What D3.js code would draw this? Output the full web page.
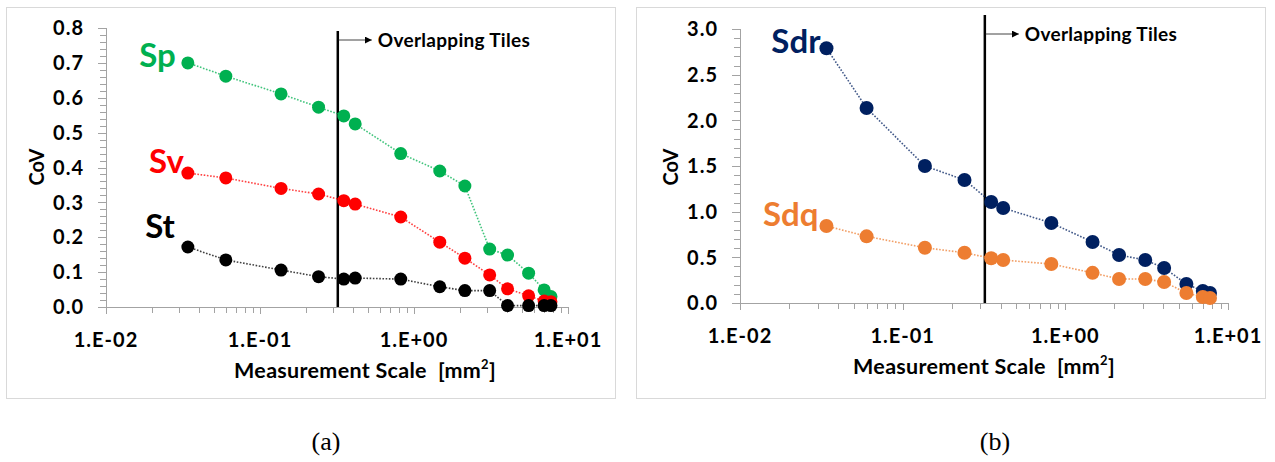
<!DOCTYPE html>
<html>
<head>
<meta charset="utf-8">
<script src="https://cdn.jsdelivr.net/npm/d3@7"></script>
<style>
  body { margin: 0; background: #fff; }
  svg { display: block; }
  svg text { font-family: Lato, "Open Sans", sans-serif; white-space: pre; }
  svg text.caption { font-family: "Liberation Serif", "Times New Roman", serif; }
</style>
</head>
<body>
<div id="chart"></div>
<script>
// measurement scales [mm^2], shared by both panels
var scales = [0.034, 0.060, 0.137, 0.24, 0.35, 0.415, 0.82, 1.47, 2.14, 3.1, 4.05, 5.55, 7.0, 7.75];

// panel (a)
var spCoV = [0.700, 0.662, 0.611, 0.573, 0.548, 0.525, 0.440, 0.390, 0.347, 0.166, 0.149, 0.097, 0.049, 0.030];
var svCoV = [0.384, 0.370, 0.340, 0.324, 0.305, 0.295, 0.258, 0.186, 0.140, 0.092, 0.052, 0.032, 0.017, 0.015];
var stCoV = [0.172, 0.135, 0.106, 0.087, 0.080, 0.083, 0.080, 0.058, 0.047, 0.047, 0.004, 0.004, 0.004, 0.004];

// panel (b)
var sdrCoV = [2.79, 2.135, 1.50, 1.347, 1.106, 1.04, 0.876, 0.668, 0.526, 0.47, 0.383, 0.208, 0.131, 0.11];
var sdqCoV = [0.843, 0.73, 0.605, 0.55, 0.49, 0.47, 0.427, 0.33, 0.263, 0.263, 0.23, 0.11, 0.066, 0.055];

var yTicksA = [0, 0.1, 0.2, 0.3, 0.4, 0.5, 0.6, 0.7, 0.8];
var yTicksB = [0, 0.5, 1.0, 1.5, 2.0, 2.5, 3.0];
var xTickValues = [0.01, 0.1, 1, 10];
var xTickLabels = ["1.E-02", "1.E-01", "1.E+00", "1.E+01"];
var overlapScale = 0.32;
var overlapLabel = "Overlapping Tiles";
var captions = ["(a)", "(b)"];

////////////////////////////////////////////////

var W = 1275, H = 462;
var svg = d3.select("#chart").append("svg")
    .attr("width", W)
    .attr("height", H);

svg.append("defs").append("marker")
    .attr("id", "arrow")
    .attr("viewBox", "0 0 10 10")
    .attr("refX", 10).attr("refY", 5)
    .attr("markerWidth", 7).attr("markerHeight", 7)
    .attr("markerUnits", "userSpaceOnUse")
    .attr("orient", "auto")
    .append("path")
    .attr("d", "M0,0 L10,5 L0,10 z")
    .attr("fill", "#000");

var axisGray = "#a3a3a3";

function drawPanel(p) {
    var g = svg.append("g");

    g.append("rect")
        .attr("x", p.box[0] + 0.5).attr("y", p.box[1] + 0.5)
        .attr("width", p.box[2]).attr("height", p.box[3])
        .attr("fill", "#fff")
        .attr("stroke", "#d9d9d9");

    var x = d3.scaleLog().domain([0.01, 10]).range([p.x0, p.x1]);
    var y = d3.scaleLinear().domain([0, p.yMax]).range([p.y0, p.y1]);

    // y axis with minor ticks
    var minorY = d3.range(0, p.yMax + 1e-9, p.yMinor);
    g.selectAll("line.ymin").data(minorY).enter().append("line")
        .attr("x1", p.x0 - 6).attr("x2", p.x0)
        .attr("y1", function(d){ return Math.round(y(d)) + 0.5; })
        .attr("y2", function(d){ return Math.round(y(d)) + 0.5; })
        .attr("stroke", axisGray);
    g.selectAll("line.ymaj").data(p.yTicks).enter().append("line")
        .attr("x1", p.x0 - 8).attr("x2", p.x0)
        .attr("y1", function(d){ return Math.round(y(d)) + 0.5; })
        .attr("y2", function(d){ return Math.round(y(d)) + 0.5; })
        .attr("stroke", axisGray);
    g.append("line")
        .attr("x1", p.x0 + 0.5).attr("x2", p.x0 + 0.5)
        .attr("y1", y(p.yMax)).attr("y2", p.y0 + 7)
        .attr("stroke", axisGray);
    g.selectAll("text.ytick").data(p.yTicks).enter().append("text")
        .attr("x", p.x0 - 22)
        .attr("y", function(d){ return y(d); })
        .attr("dy", "0.36em")
        .attr("text-anchor", "end")
        .attr("font-size", 20)
        .attr("font-weight", 700)
        .attr("letter-spacing", 1)
        .text(function(d){ return d.toFixed(1); });

    // x axis, log minor ticks
    var minorX = [];
    [0.01, 0.1, 1].forEach(function(dec){
        for (var k = 2; k <= 9; k++) minorX.push(dec * k);
    });
    g.append("line")
        .attr("x1", p.x0 - 8).attr("x2", p.x1)
        .attr("y1", Math.round(p.y0) + 0.5).attr("y2", Math.round(p.y0) + 0.5)
        .attr("stroke", axisGray);
    g.selectAll("line.xmin").data(minorX).enter().append("line")
        .attr("x1", function(d){ return Math.round(x(d)) + 0.5; })
        .attr("x2", function(d){ return Math.round(x(d)) + 0.5; })
        .attr("y1", p.y0).attr("y2", p.y0 + 6)
        .attr("stroke", axisGray);
    g.selectAll("line.xmaj").data(xTickValues).enter().append("line")
        .attr("x1", function(d){ return Math.round(x(d)) + 0.5; })
        .attr("x2", function(d){ return Math.round(x(d)) + 0.5; })
        .attr("y1", p.y0).attr("y2", p.y0 + 7)
        .attr("stroke", axisGray);
    g.selectAll("text.xtick").data(xTickValues).enter().append("text")
        .attr("x", function(d){ return x(d); })
        .attr("y", p.y0 + 40)
        .attr("text-anchor", "middle")
        .attr("font-size", 20)
        .attr("font-weight", 700)
        .attr("letter-spacing", 1)
        .text(function(d,i){ return xTickLabels[i]; });

    // axis titles
    var xt = g.append("text")
        .attr("x", (p.x0 + p.x1) / 2 + p.titleShift)
        .attr("y", p.y0 + 71)
        .attr("text-anchor", "middle")
        .attr("font-size", 21.5)
        .attr("font-weight", 700)
        .attr("letter-spacing", 0.3);
    xt.append("tspan").text("Measurement Scale  [mm");
    xt.append("tspan").attr("font-size", 13).attr("dy", -9).text("2");
    xt.append("tspan").attr("dy", 9).text("]");

    g.append("text")
        .attr("transform", "translate(" + (p.x0 - 69) + "," + 167 + ") rotate(-90)")
        .attr("dy", "0.36em")
        .attr("text-anchor", "middle")
        .attr("font-size", 20)
        .attr("font-weight", 700)
        .text("CoV");

    // overlapping tiles marker
    var ox = x(overlapScale);
    g.append("line")
        .attr("x1", ox).attr("x2", ox)
        .attr("y1", p.overlapTop).attr("y2", p.y0)
        .attr("stroke", "#000").attr("stroke-width", 2.5);
    g.append("line")
        .attr("x1", ox + 1).attr("x2", ox + 34)
        .attr("y1", p.overlapTop + p.arrowDy).attr("y2", p.overlapTop + p.arrowDy)
        .attr("stroke", "#444").attr("stroke-width", 1)
        .attr("marker-end", "url(#arrow)");
    g.append("text")
        .attr("x", ox + 40)
        .attr("y", p.overlapTop + p.arrowDy + 7)
        .attr("font-size", 19)
        .attr("font-weight", 700)
        .attr("letter-spacing", 0.3)
        .text(overlapLabel);

    // series
    var line = d3.line()
        .x(function(d){ return x(d[0]); })
        .y(function(d){ return y(d[1]); });

    p.series.forEach(function(s){
        var pts = d3.zip(scales, s.values);
        g.append("path")
            .attr("d", line(pts))
            .attr("fill", "none")
            .attr("stroke", s.color)
            .attr("stroke-opacity", 0.75)
            .attr("stroke-width", 1.6)
            .attr("stroke-dasharray", "1.6,1.6");
        g.selectAll(null).data(pts).enter().append("circle")
            .attr("cx", function(d){ return x(d[0]); })
            .attr("cy", function(d){ return y(d[1]); })
            .attr("r", p.r)
            .attr("fill", s.color);
        g.append("text")
            .attr("x", x(pts[0][0]) + s.lab[0])
            .attr("y", y(pts[0][1]) + s.lab[1])
            .attr("text-anchor", "end")
            .attr("font-size", 33)
            .attr("font-weight", 700)
            .attr("fill", s.color)
            .text(s.name);
    });
}

drawPanel({
    box: [6, 7, 609, 391],
    x0: 106, x1: 568, y0: 307, y1: 28,
    yMax: 0.8, yMinor: 0.02, yTicks: yTicksA,
    overlapTop: 31, arrowDy: 9, titleShift: 28, r: 6.5,
    series: [
        {name: "Sp", values: spCoV, color: "#00b050", lab: [-12, 4]},
        {name: "Sv", values: svCoV, color: "#ff0000", lab: [-4, 0]},
        {name: "St", values: stCoV, color: "#000000", lab: [-13, -9]}
    ]
});

drawPanel({
    box: [636, 7, 629, 391],
    x0: 740, x1: 1228, y0: 303, y1: 29,
    yMax: 3.0, yMinor: 0.1, yTicks: yTicksB,
    overlapTop: 15, arrowDy: 19, titleShift: 0, r: 7,
    series: [
        {name: "Sdr", values: sdrCoV, color: "#002060", lab: [-6, 5]},
        {name: "Sdq", values: sdqCoV, color: "#ed7d31", lab: [-8, 0]}
    ]
});

svg.selectAll("text.caption").data(captions).enter().append("text")
    .attr("class", "caption")
    .attr("x", function(d,i){ return [326, 995][i]; })
    .attr("y", 450)
    .attr("text-anchor", "middle")
    .attr("font-size", 26)
    .text(function(d){ return d; });
</script>
</body>
</html>
